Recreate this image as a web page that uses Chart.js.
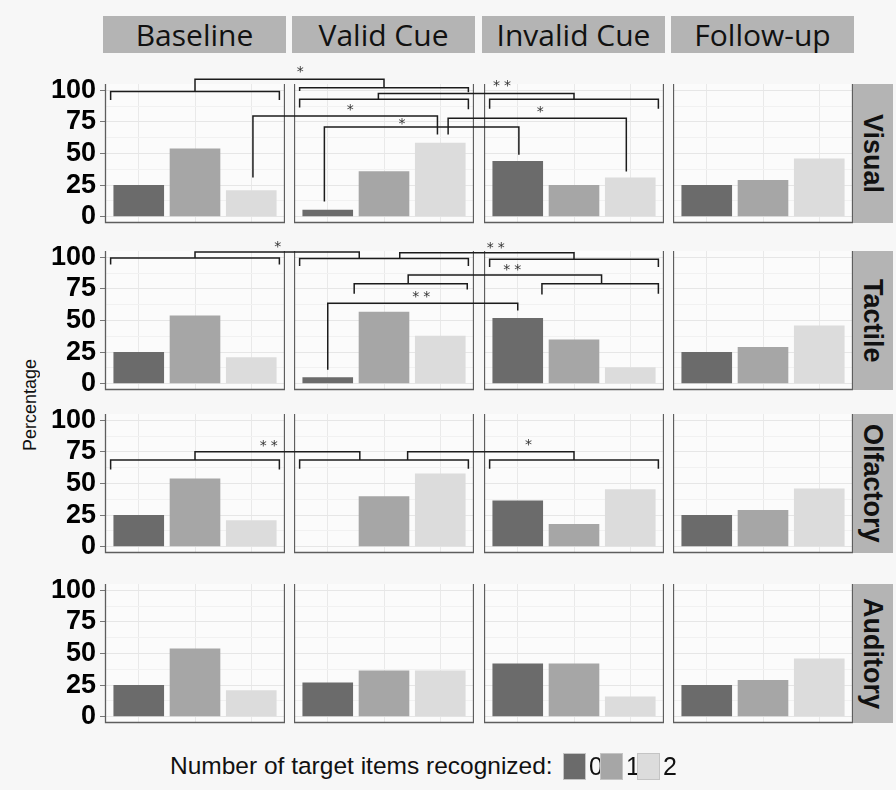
<!DOCTYPE html>
<html>
<head>
<meta charset="utf-8">
<script src="https://cdn.jsdelivr.net/npm/chart.js@4.4.1/dist/chart.umd.min.js"></script>
<style>
  body { margin: 0; background: #f7f7f7; }
  #fig { position: relative; width: 896px; height: 790px; background: #f7f7f7; overflow: hidden; font-family: "Liberation Sans", Arial, sans-serif; }
  #fig canvas { position: absolute; }
  .strip-top { position: absolute; top: 16px; height: 37px; background: #b4b4b4; font-family: "Open Sans", sans-serif; font-size: 30px; line-height: 37px; text-align: center; color: #111; }
  .strip-right { position: absolute; left: 852px; width: 41px; background: #b4b4b4; writing-mode: vertical-rl; font-weight: bold; font-size: 27px; line-height: 41px; text-align: center; color: #111; }
  .ylab { position: absolute; left: 19px; top: 355px; height: 100px; width: 22px; writing-mode: vertical-rl; transform: rotate(180deg); font-size: 18px; line-height: 22px; text-align: center; color: #111; }
  .legend-text { position: absolute; left: 170px; top: 750px; font-size: 24.5px; line-height: 32px; color: #111; white-space: nowrap; }
  .key { position: absolute; top: 753px; width: 21px; height: 25px; border: 1px solid #c4c4c4; }
  .key-label { position: absolute; top: 750px; font-size: 25px; line-height: 32px; color: #111; }
</style>
</head>
<body>
<div id="fig"></div>
<script>
const conditions = ['Baseline', 'Valid Cue', 'Invalid Cue', 'Follow-up'];
const modalities = ['Visual', 'Tactile', 'Olfactory', 'Auditory'];
const itemCounts = ['0', '1', '2'];
const yTicks = [0, 25, 50, 75, 100];

// percentage per condition: [0 items, 1 item, 2 items]
const visualPct    = [[25, 54, 21], [5.5, 36, 58.5], [44, 25, 31], [25, 29, 46]];
const tactilePct   = [[25, 54, 21], [5, 57, 38], [52, 35, 13], [25, 29, 46]];
const olfactoryPct = [[25, 54, 21], [0, 40, 58], [36.5, 18, 45.5], [25, 29, 46]];
const auditoryPct  = [[25, 54, 21], [27, 36.5, 36.5], [42, 42, 16], [25, 29, 46]];

// significance brackets: [[colA, xA, legEndA], [colB, xB, legEndB], topValue]
const visualBrackets = [
  [[0, 0.5, 92.3], [0, 3.5, 92.3], 99],
  [[0, 2, 99], [1, 2, 102], 108.7],
  [[1, 0.5, 99.5], [1, 3.5, 98.5], 102],
  [[1, 0.5, 86.5], [1, 3.5, 85], 92.9],
  [[2, 0.5, 85.5], [2, 3.5, 85.5], 92.9],
  [[1, 1.9, 92.9], [2, 2, 92.9], 97.4],
  [[0, 3.03, 31], [1, 2.95, 65], 79.6],
  [[1, 0.94, 12], [2, 1.02, 49], 70.9],
  [[1, 3.14, 65], [2, 2.93, 35.7], 77.8]
];
const tactileBrackets = [
  [[0, 0.5, 94.4], [0, 3.5, 94.4], 99.4],
  [[0, 2, 99.4], [1, 1.56, 99], 104.2],
  [[1, 0.5, 93.1], [1, 3.5, 93.1], 99],
  [[1, 2.28, 99], [2, 2, 98.4], 103.7],
  [[2, 0.5, 92.3], [2, 3.5, 92.3], 98.4],
  [[1, 1.47, 71.2], [1, 3.48, 74.6], 79.1],
  [[1, 2.43, 79.1], [2, 2.49, 79.1], 86],
  [[2, 1.43, 70.6], [2, 3.5, 71.2], 79.1],
  [[1, 1, 11], [2, 1, 58], 63.7]
];
const olfactoryBrackets = [
  [[0, 0.5, 61.1], [0, 3.5, 61.1], 68.5],
  [[0, 2, 68.5], [1, 1.57, 68.5], 75.2],
  [[1, 0.5, 61.7], [1, 3.5, 61.7], 68.5],
  [[1, 2.42, 68.5], [2, 2, 68.5], 75.2],
  [[2, 0.5, 61.7], [2, 3.5, 61.7], 68.5]
];
const auditoryBrackets = [];

// star labels: [text, col, x, value]
const visualStars = [['*', 1, 0.51, 116.7], ['**', 2, 0.72, 105.6], ['*', 1, 1.4, 86.5], ['*', 1, 2.32, 75.4], ['*', 2, 1.4, 84.9]];
const tactileStars = [['*', 0, 3.47, 110.2], ['**', 2, 0.61, 109], ['**', 2, 0.9, 91.8], ['**', 1, 2.66, 70.6]];
const olfactoryStars = [['**', 0, 3.31, 81.7], ['*', 2, 1.19, 82.3]];
const auditoryStars = [];

const pctByRow = [visualPct, tactilePct, olfactoryPct, auditoryPct];
const bracketsByRow = [visualBrackets, tactileBrackets, olfactoryBrackets, auditoryBrackets];
const starsByRow = [visualStars, tactileStars, olfactoryStars, auditoryStars];

// layout
const COL_LEFT = [105, 294, 484, 673];
const ROW_TOP = [84, 251, 414, 584];
const PANEL_W = 180, PANEL_H = 139, AXIS_W = 60, PAD_V = 26;
const fills = ['#6b6b6b', '#a6a6a6', '#dcdcdc'];

const fig = document.getElementById('fig');

const panelFrame = {
  id: 'panelFrame',
  beforeDraw(chart) {
    const { ctx, chartArea: a } = chart;
    ctx.save();
    ctx.fillStyle = '#fbfbfb';
    ctx.fillRect(a.left, a.top, a.width, a.height);
    ctx.restore();
  },
  afterDraw(chart) {
    const { ctx, chartArea: a } = chart;
    ctx.save();
    ctx.strokeStyle = '#5e5e5e';
    ctx.lineWidth = 1.3;
    ctx.beginPath();
    ctx.moveTo(a.left + 0.5, a.top);
    ctx.lineTo(a.left + 0.5, a.bottom - 0.5);
    ctx.lineTo(a.right - 0.5, a.bottom - 0.5);
    ctx.lineTo(a.right - 0.5, a.top);
    ctx.stroke();
    ctx.restore();
  }
};

const isMajor = v => v % 25 === 0;

function panelConfig(values, leftAxis) {
  return {
    type: 'bar',
    data: {
      datasets: [{
        data: values.map((v, i) => ({ x: i + 1, y: v })),
        backgroundColor: fills,
        borderWidth: 0,
        barPercentage: 0.9,
        categoryPercentage: 1
      }]
    },
    options: {
      responsive: false,
      animation: false,
      events: [],
      layout: { padding: { top: PAD_V, bottom: PAD_V, left: 0, right: 0 } },
      plugins: { legend: { display: false }, tooltip: { enabled: false } },
      scales: {
        x: {
          type: 'linear', min: 0.4, max: 3.6, offset: false,
          afterBuildTicks: s => { s.ticks = [1, 2, 3].map(v => ({ value: v })); },
          ticks: { display: false },
          grid: { color: '#e9e9e9', drawTicks: false, offset: false },
          border: { display: false },
          afterFit: s => { s.height = 0; }
        },
        y: {
          min: -5, max: 105,
          afterBuildTicks: s => { s.ticks = [0, 12.5, 25, 37.5, 50, 62.5, 75, 87.5, 100].map(v => ({ value: v })); },
          ticks: {
            display: leftAxis,
            autoSkip: false,
            padding: 4,
            color: '#000',
            font: { family: '"Liberation Sans", Arial, sans-serif', size: 27, weight: 'bold' },
            callback: v => (yTicks.includes(v) ? String(v) : '')
          },
          grid: {
            color: c => (c.tick && isMajor(c.tick.value) ? '#e6e6e6' : '#f1f1f1'),
            drawTicks: leftAxis,
            tickLength: 5,
            tickColor: c => (c.tick && isMajor(c.tick.value) ? '#777' : 'rgba(0,0,0,0)')
          },
          border: { display: false },
          afterFit: s => { s.width = leftAxis ? AXIS_W : 0; }
        }
      }
    },
    plugins: [panelFrame]
  };
}

// strips
conditions.forEach((c, k) => {
  const d = document.createElement('div');
  d.className = 'strip-top';
  d.style.left = (COL_LEFT[k] - 2) + 'px';
  d.style.width = (PANEL_W + 3) + 'px';
  d.textContent = c;
  fig.appendChild(d);
});
modalities.forEach((m, r) => {
  const d = document.createElement('div');
  d.className = 'strip-right';
  d.style.top = ROW_TOP[r] + 'px';
  d.style.height = PANEL_H + 'px';
  d.textContent = m;
  fig.appendChild(d);
});

// panels
const charts = [];
modalities.forEach((m, r) => {
  charts[r] = [];
  conditions.forEach((c, k) => {
    const leftAxis = k === 0;
    const axisW = leftAxis ? AXIS_W : 0;
    const cv = document.createElement('canvas');
    const w = axisW + PANEL_W, h = PANEL_H + PAD_V * 2;
    cv.width = w; cv.height = h;
    cv.style.width = w + 'px'; cv.style.height = h + 'px';
    cv.style.left = (COL_LEFT[k] - axisW) + 'px';
    cv.style.top = (ROW_TOP[r] - PAD_V) + 'px';
    fig.appendChild(cv);
    charts[r][k] = new Chart(cv, panelConfig(pctByRow[r][k], leftAxis));
  });
});

// significance overlay, positioned through each panel's scales
const ov = document.createElement('canvas');
ov.width = 896; ov.height = 790;
ov.style.left = '0px'; ov.style.top = '0px'; ov.style.zIndex = 5;
fig.appendChild(ov);
const octx = ov.getContext('2d');

function px(r, col, x) {
  const ch = charts[r][col];
  return ch.canvas.offsetLeft + ch.scales.x.getPixelForValue(x);
}
function py(r, col, v) {
  const ch = charts[r][col];
  return ch.canvas.offsetTop + ch.scales.y.getPixelForValue(v);
}

octx.strokeStyle = '#1c1c1c';
octx.lineWidth = 1.5;
bracketsByRow.forEach((list, r) => {
  list.forEach(([a, b, top]) => {
    const xa = px(r, a[0], a[1]), xb = px(r, b[0], b[1]);
    octx.beginPath();
    octx.moveTo(xa, py(r, a[0], a[2]));
    octx.lineTo(xa, py(r, a[0], top));
    octx.lineTo(xb, py(r, b[0], top));
    octx.lineTo(xb, py(r, b[0], b[2]));
    octx.stroke();
  });
});

octx.fillStyle = '#333';
octx.font = '14px "DejaVu Sans"';
octx.textAlign = 'center';
octx.textBaseline = 'alphabetic';
starsByRow.forEach((list, r) => {
  list.forEach(([txt, col, x, v]) => {
    octx.letterSpacing = txt.length > 1 ? '4px' : '0px';
    const m = octx.measureText(txt);
    const cy = py(r, col, v);
    octx.fillText(txt, px(r, col, x) + (txt.length > 1 ? 2 : 0), cy + (m.actualBoundingBoxAscent - m.actualBoundingBoxDescent) / 2);
  });
});

// axis title and legend
const yl = document.createElement('div');
yl.className = 'ylab';
yl.textContent = 'Percentage';
fig.appendChild(yl);

const lt = document.createElement('div');
lt.className = 'legend-text';
lt.textContent = 'Number of target items recognized:';
fig.appendChild(lt);

const keyLeft = [563, 600, 637];
const labelLeft = [589, 626, 663];
itemCounts.forEach((n, i) => {
  const k = document.createElement('div');
  k.className = 'key';
  k.style.left = keyLeft[i] + 'px';
  k.style.background = fills[i];
  fig.appendChild(k);
  const l = document.createElement('div');
  l.className = 'key-label';
  l.style.left = labelLeft[i] + 'px';
  l.textContent = n;
  fig.appendChild(l);
});
</script>
</body>
</html>
